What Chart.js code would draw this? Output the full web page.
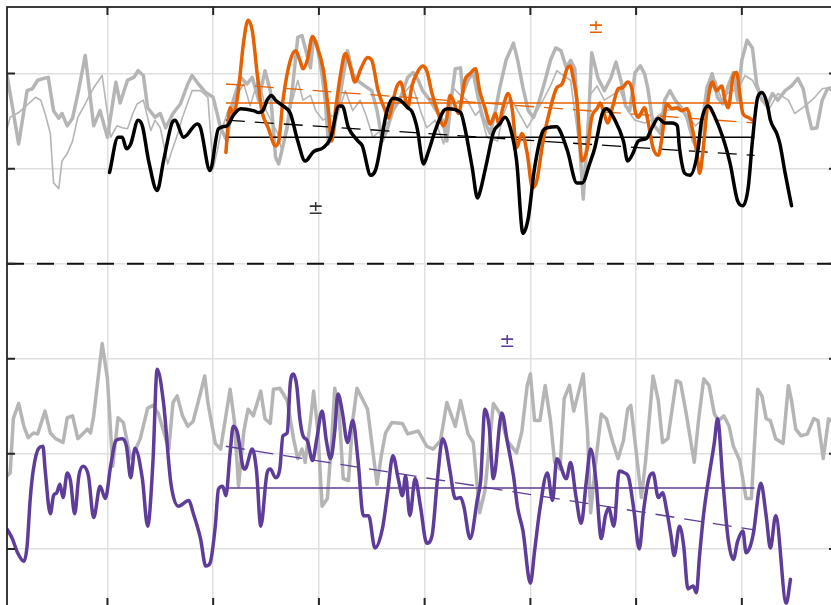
<!DOCTYPE html>
<html>
<head>
<meta charset="utf-8">
<script src="https://cdn.jsdelivr.net/npm/chart.js@4"></script>
<style>
  html, body { margin: 0; padding: 0; background: #fff; overflow: hidden; }
  #wrap { width: 831px; height: 605px; overflow: hidden; }
</style>
</head>
<body>
<div id="wrap"><canvas id="chart" width="840" height="610"></canvas></div>
<script>
// axis ticks (no labels shown in the figure)
const xTicks = [1960, 1970, 1980, 1990, 2000, 2010, 2020];
const yTicks = [-3, -2, -1, 0, 1, 2];

// ---- top panel ----
const grayThickYears = [
  1950.5, 1951.0, 1951.6, 1952.1, 1952.4, 1952.9, 1953.4, 1954.0, 1954.4, 1954.9,
  1955.4, 1955.7, 1956.2, 1956.7, 1957.3, 1957.9, 1958.7, 1959.3, 1960.0, 1960.8,
  1961.2, 1961.9, 1962.5, 1962.9, 1963.4, 1963.8, 1964.5, 1965.0, 1965.5, 1966.2,
  1966.9, 1967.6, 1968.0, 1968.6, 1969.3, 1970.0, 1970.7, 1971.3, 1971.9, 1972.6,
  1973.2, 1973.7, 1974.3, 1974.9, 1975.4, 1975.9, 1976.2, 1977.0, 1977.5, 1978.0,
  1978.4, 1978.7, 1979.2, 1979.5, 1979.8, 1980.3, 1980.6, 1980.9, 1981.4, 1982.0,
  1982.7, 1983.2, 1983.6, 1984.1, 1984.6, 1985.0, 1985.5, 1986.0, 1986.5, 1987.0,
  1987.7, 1988.4, 1988.9, 1989.4, 1989.8, 1990.5, 1991.1, 1991.7, 1992.1, 1992.5,
  1992.9, 1993.4, 1993.6, 1994.1, 1994.6, 1995.1, 1995.5, 1996.2, 1996.7, 1997.1,
  1997.7, 1998.4, 1998.8, 1999.3, 1999.8, 2000.3, 2000.7, 2001.4, 2001.9, 2002.4,
  2002.9, 2003.4, 2003.8, 2004.2, 2004.7, 2005.0, 2005.5, 2005.8, 2006.4, 2007.0,
  2007.6, 2008.1, 2008.6, 2009.0, 2009.4, 2009.9, 2010.4, 2010.8, 2011.1, 2011.6,
  2012.3, 2012.7, 2013.2, 2013.7, 2014.3, 2014.8, 2015.4, 2015.8, 2016.2, 2016.7,
  2017.2, 2017.7, 2018.2, 2018.7, 2019.2, 2019.6, 2020.0, 2020.5, 2021.0, 2021.4,
  2021.9, 2022.4, 2022.9, 2023.4, 2024.1, 2024.7, 2025.3, 2025.8, 2026.2, 2026.6,
  2027.1, 2027.6, 2028.1, 2028.4
];
const grayThickVals = [
  1.98, 1.66, 1.26, 1.61, 1.82, 1.84, 1.93, 1.95, 1.96, 1.61,
  1.53, 1.58, 1.45, 1.53, 1.84, 2.19, 1.45, 1.61, 1.33, 1.91,
  1.69, 1.93, 1.96, 2.03, 1.98, 1.64, 1.54, 1.58, 1.43, 1.58,
  1.68, 1.89, 1.98, 1.89, 1.80, 1.75, 1.43, 1.29, 1.72, 1.96,
  1.89, 1.96, 1.72, 2.03, 1.82, 1.12, 1.05, 1.43, 1.85, 2.38,
  2.40, 2.27, 2.06, 2.38, 2.32, 1.98, 1.72, 1.26, 1.40, 1.77,
  2.24, 2.00, 1.93, 1.89, 1.85, 1.82, 1.61, 1.29, 1.43, 1.61,
  1.74, 1.96, 2.01, 1.93, 1.82, 1.72, 1.61, 1.51, 1.29, 1.72,
  2.05, 2.06, 1.79, 1.93, 2.01, 1.72, 1.54, 1.37, 1.61, 1.85,
  2.14, 2.32, 2.14, 1.85, 1.61, 1.54, 1.66, 1.93, 2.14, 2.27,
  2.24, 2.06, 2.14, 2.05, 1.19, 0.68, 1.51, 2.22, 1.95, 1.82,
  1.95, 2.12, 1.91, 1.66, 1.61, 2.01, 2.08, 2.00, 1.85, 1.47,
  1.37, 1.72, 1.82, 1.72, 1.64, 1.54, 1.29, 1.21, 1.43, 1.85,
  2.00, 1.75, 1.68, 1.87, 2.01, 1.72, 2.14, 2.35, 2.27, 1.89,
  1.72, 1.66, 1.79, 1.72, 1.82, 1.87, 1.95, 1.84, 1.61, 1.42,
  1.43, 1.72, 1.84, 1.85
];

const grayThinYears = [
  1950.5, 1950.8, 1951.6, 1952.5, 1953.2, 1953.7, 1954.1, 1954.6, 1954.9, 1955.4,
  1955.7, 1956.2, 1956.7, 1957.2, 1957.9, 1958.2, 1958.7, 1959.5, 1959.9, 1960.3,
  1960.9, 1961.4, 1961.9, 1962.4, 1962.8, 1963.4, 1964.1, 1964.5, 1965.0, 1965.7,
  1966.1, 1966.6, 1967.1, 1968.0, 1968.8, 1969.5, 1970.0, 1970.4, 1970.7, 1971.4,
  1972.2, 1972.9, 1973.5, 1974.3, 1975.0, 1976.1, 1976.5, 1977.0, 1978.0, 1978.5,
  1979.2, 1979.7, 1980.4, 1981.1, 1981.7, 1982.5, 1983.2, 1983.9, 1984.4, 1985.1,
  1985.8, 1986.7, 1987.3, 1988.0, 1988.8, 1989.3, 1989.6, 1990.2, 1991.0, 1991.8,
  1992.2, 1992.7, 1993.4, 1994.0, 1994.8, 1995.2, 1995.9, 1996.9, 1997.4, 1998.1,
  1998.8, 1999.7, 2000.4, 2001.2, 2001.9, 2002.5, 2003.1, 2003.8, 2004.3, 2005.0,
  2005.6, 2006.3, 2007.0, 2007.7, 2008.5, 2009.2, 2009.9, 2010.8, 2011.8, 2012.7,
  2013.7, 2014.6, 2015.6, 2016.2, 2016.8, 2017.5, 2018.1, 2018.9, 2019.6, 2020.3,
  2021.0, 2021.7, 2022.5, 2023.4, 2024.4, 2025.0, 2026.0, 2026.9, 2027.6, 2028.1,
  2028.4
];
const grayThinVals = [
  1.42, 1.54, 1.59, 1.68, 1.75, 1.72, 1.58, 1.37, 0.85, 0.79,
  1.08, 1.16, 1.29, 1.54, 1.68, 1.75, 1.85, 1.98, 1.66, 1.33,
  1.45, 1.43, 1.42, 1.58, 1.68, 1.72, 1.40, 1.51, 1.43, 1.05,
  1.19, 1.35, 1.54, 1.82, 1.82, 1.75, 1.00, 1.19, 1.37, 1.61,
  1.77, 1.89, 1.66, 1.96, 1.61, 1.37, 1.19, 1.51, 1.93, 1.72,
  1.77, 1.61, 1.51, 1.56, 1.54, 1.82, 1.61, 1.72, 1.58, 1.33,
  1.40, 1.51, 1.72, 1.79, 1.89, 1.72, 1.61, 1.43, 1.51, 1.26,
  1.56, 1.85, 1.77, 1.72, 1.56, 1.61, 1.33, 1.29, 1.56, 1.75,
  1.61, 1.43, 1.56, 1.72, 1.87, 2.03, 1.98, 1.93, 1.51, 0.87,
  1.77, 1.87, 1.72, 1.77, 1.82, 1.61, 1.51, 1.48, 1.53, 1.61,
  1.63, 1.59, 1.45, 1.51, 1.77, 1.93, 1.72, 1.82, 1.82, 1.98,
  1.93, 1.77, 1.61, 1.79, 1.72, 1.58, 1.66, 1.75, 1.84, 1.85,
  1.82
];

const blackYears = [
  1960.2, 1961.0, 1961.4, 1961.8, 1962.2, 1962.9, 1963.3, 1963.9, 1964.7, 1965.3,
  1966.1, 1966.4, 1967.2, 1968.5, 1968.8, 1969.7, 1970.5, 1971.3, 1971.9, 1972.6,
  1973.8, 1974.3, 1974.7, 1975.1, 1975.5, 1975.9, 1976.6, 1977.3, 1978.0, 1978.7,
  1979.5, 1980.4, 1981.1, 1981.9, 1982.2, 1982.8, 1983.7, 1984.1, 1984.9, 1985.4,
  1986.4, 1987.0, 1987.7, 1988.4, 1988.8, 1989.3, 1989.9, 1990.3, 1991.0, 1991.8,
  1992.2, 1993.4, 1993.8, 1994.5, 1995.0, 1995.2, 1995.9, 1996.5, 1997.1, 1997.6,
  1998.1, 1998.7, 1999.3, 1999.8, 2000.4, 2001.2, 2001.6, 2002.5, 2002.8, 2003.5,
  2004.4, 2004.9, 2005.6, 2006.1, 2006.8, 2007.2, 2008.0, 2008.8, 2009.2, 2009.7,
  2010.2, 2011.0, 2011.5, 2012.1, 2012.7, 2013.4, 2013.9, 2014.1, 2014.6, 2015.1,
  2015.8, 2016.2, 2016.8, 2017.5, 2018.4, 2018.9, 2019.6, 2020.1, 2020.6, 2021.0,
  2021.5, 2021.9, 2022.4, 2022.7, 2023.3, 2023.6, 2024.1, 2024.7
];
const blackVals = [
  0.96, 1.33, 1.33, 1.21, 1.26, 1.51, 1.45, 1.08, 0.77, 1.08,
  1.48, 1.51, 1.33, 1.47, 1.43, 0.98, 1.42, 1.45, 1.56, 1.63,
  1.61, 1.59, 1.61, 1.72, 1.77, 1.72, 1.66, 1.58, 1.29, 1.08,
  1.18, 1.22, 1.32, 1.66, 1.66, 1.43, 1.29, 1.24, 0.93, 1.00,
  1.59, 1.74, 1.72, 1.64, 1.60, 1.42, 1.05, 1.16, 1.40, 1.61,
  1.63, 1.59, 1.43, 1.01, 0.69, 0.74, 1.08, 1.38, 1.47, 1.54,
  1.43, 1.08, 0.32, 0.48, 1.01, 1.40, 1.43, 1.44, 1.40, 1.19,
  0.85, 0.85, 1.05, 1.22, 1.58, 1.63, 1.51, 1.29, 1.08, 1.16,
  1.29, 1.32, 1.43, 1.53, 1.48, 1.48, 1.45, 1.22, 0.95, 0.93,
  1.16, 1.51, 1.66, 1.53, 1.26, 1.05, 0.66, 0.61, 0.80, 1.29,
  1.75, 1.80, 1.68, 1.51, 1.37, 1.26, 0.95, 0.61
];

const orangeYears = [
  1971.2, 1971.6, 1971.9, 1972.3, 1972.9, 1973.3, 1973.7, 1974.2, 1974.6, 1975.2,
  1975.9, 1976.2, 1976.6, 1977.3, 1977.8, 1978.2, 1978.5, 1978.9, 1979.4, 1979.8,
  1980.4, 1980.9, 1981.2, 1981.6, 1982.0, 1982.5, 1983.0, 1983.4, 1984.0, 1984.6,
  1985.0, 1985.6, 1986.2, 1986.6, 1986.9, 1987.3, 1987.7, 1988.1, 1988.4, 1988.8,
  1989.3, 1989.8, 1990.2, 1990.7, 1991.2, 1991.8, 1992.1, 1992.4, 1992.7, 1993.2,
  1993.8, 1994.3, 1994.8, 1995.2, 1995.7, 1996.2, 1996.7, 1997.0, 1997.4, 1997.9,
  1998.3, 1998.7, 1999.2, 1999.7, 2000.2, 2000.6, 2001.2, 2001.9, 2002.5, 2003.0,
  2003.5, 2003.8, 2004.0, 2004.4, 2004.9, 2005.4, 2005.8, 2006.3, 2006.6, 2006.9,
  2007.3, 2007.8, 2008.3, 2008.7, 2009.2, 2009.6, 2009.9, 2010.2, 2010.8, 2011.1,
  2011.6, 2012.1, 2012.4, 2012.9, 2013.4, 2013.9, 2014.3, 2014.8, 2015.3, 2015.8,
  2016.0, 2016.3, 2016.8, 2017.2, 2017.6, 2018.1, 2018.4, 2018.7, 2019.2, 2019.5,
  2019.8, 2020.1, 2020.6, 2021.0
];
const orangeVals = [
  1.17, 1.64, 1.58, 1.75, 2.35, 2.56, 2.45, 1.96, 1.61, 1.43,
  1.24, 1.29, 1.72, 2.14, 2.24, 2.14, 2.05, 2.14, 2.39, 2.29,
  2.05, 1.61, 1.29, 1.64, 1.96, 2.21, 2.06, 1.91, 2.06, 2.17,
  2.14, 1.82, 1.63, 1.53, 1.66, 1.84, 1.91, 1.77, 1.64, 1.87,
  2.01, 2.08, 2.03, 1.79, 1.61, 1.45, 1.54, 1.77, 1.72, 1.58,
  1.93, 2.00, 2.05, 1.82, 1.64, 1.47, 1.58, 1.47, 1.64, 1.79,
  1.61, 1.22, 1.37, 1.16, 0.80, 0.87, 1.29, 1.64, 1.85, 1.89,
  2.06, 2.08, 1.98, 1.72, 1.08, 1.22, 1.54, 1.63, 1.69, 1.61,
  1.48, 1.66, 1.84, 1.85, 1.91, 1.84, 1.61, 1.54, 1.64, 1.51,
  1.22, 1.14, 1.29, 1.68, 1.63, 1.64, 1.61, 1.63, 1.43, 1.12,
  0.95, 1.16, 1.72, 1.91, 1.82, 1.87, 1.72, 1.64, 1.98, 2.01,
  1.79, 1.58, 1.54, 1.51
];

// ---- bottom panel ----
const grayLowYears = [
  1950.5, 1950.8, 1951.1, 1951.6, 1952.1, 1952.5, 1953.0, 1953.4, 1954.1, 1954.6,
  1955.1, 1955.8, 1956.2, 1956.7, 1957.2, 1958.1, 1958.4, 1958.7, 1959.5, 1960.0,
  1960.5, 1961.0, 1961.5, 1962.2, 1962.6, 1963.1, 1963.8, 1964.3, 1964.8, 1965.3,
  1965.8, 1966.2, 1966.6, 1967.1, 1967.6, 1968.1, 1968.8, 1969.2, 1969.5, 1970.2,
  1970.7, 1971.6, 1972.0, 1972.4, 1972.9, 1973.3, 1973.8, 1974.5, 1974.9, 1975.4,
  1975.7, 1976.3, 1977.0, 1977.6, 1978.0, 1978.4, 1978.7, 1979.2, 1979.5, 1979.9,
  1980.3, 1980.8, 1981.2, 1981.5, 1981.9, 1982.3, 1982.8, 1983.2, 1983.6, 1984.6,
  1985.1, 1985.5, 1985.9, 1986.3, 1986.9, 1987.9, 1988.4, 1989.4, 1990.2, 1990.8,
  1991.5, 1992.1, 1992.9, 1993.4, 1994.1, 1994.6, 1995.2, 1995.7, 1996.5, 1997.1,
  1997.8, 1998.7, 1999.2, 1999.7, 2000.0, 2000.4, 2000.9, 2001.4, 2001.9, 2002.3,
  2002.8, 2003.2, 2003.7, 2004.1, 2005.0, 2005.4, 2005.7, 2006.2, 2006.7, 2007.2,
  2007.8, 2008.3, 2008.8, 2009.2, 2009.5, 2010.0, 2010.5, 2010.9, 2011.6, 2012.1,
  2012.5, 2013.0, 2013.8, 2014.2, 2014.7, 2015.5, 2015.9, 2016.4, 2016.9, 2017.4,
  2017.8, 2018.3, 2018.8, 2019.2, 2019.8, 2020.4, 2020.9, 2021.5, 2021.9, 2022.3,
  2022.7, 2023.2, 2023.9, 2024.4, 2024.7, 2025.1, 2025.6, 2026.2, 2026.8, 2027.2,
  2027.7, 2028.2, 2028.4
];
const grayLowVals = [
  -2.23, -2.20, -1.63, -1.47, -1.71, -1.83, -1.78, -1.79, -1.55, -1.78,
  -1.84, -1.88, -1.62, -1.60, -1.84, -1.74, -1.78, -1.60, -0.84, -1.21,
  -2.13, -1.62, -1.67, -2.05, -1.97, -1.84, -1.52, -1.49, -1.57, -1.76,
  -1.95, -1.46, -1.39, -1.60, -1.71, -1.66, -1.36, -1.18, -1.46, -1.89,
  -1.95, -1.32, -1.65, -2.34, -1.76, -1.53, -1.60, -1.34, -1.63, -1.68,
  -1.32, -1.31, -1.44, -1.84, -2.05, -1.95, -2.09, -1.65, -1.34, -1.76,
  -2.55, -2.47, -1.86, -1.31, -1.55, -2.26, -2.28, -1.65, -1.31, -1.53,
  -1.97, -2.32, -2.02, -1.78, -1.67, -1.68, -1.79, -1.76, -1.92, -1.95,
  -1.86, -1.46, -1.71, -1.44, -1.79, -1.88, -2.62, -2.39, -1.47, -1.57,
  -1.86, -1.99, -1.76, -1.28, -1.16, -1.65, -1.65, -1.28, -1.65, -2.09,
  -2.16, -1.42, -1.28, -1.55, -1.16, -1.76, -2.62, -2.07, -1.58, -1.63,
  -1.88, -2.05, -1.86, -1.53, -1.49, -1.97, -2.46, -2.07, -1.18, -1.44,
  -1.88, -1.84, -1.23, -1.25, -1.55, -2.09, -1.65, -1.21, -1.28, -1.58,
  -1.65, -1.60, -1.71, -1.92, -2.07, -2.47, -2.47, -1.32, -1.39, -1.63,
  -1.65, -1.84, -1.89, -1.28, -1.44, -1.74, -1.81, -1.79, -1.63, -1.65,
  -2.05, -1.63, -1.65
];

const purpleYears = [
  1950.5, 1951.0, 1951.5, 1952.1, 1952.4, 1952.7, 1953.0, 1953.5, 1953.9, 1954.1,
  1954.6, 1954.9, 1955.2, 1955.5, 1955.8, 1956.2, 1956.5, 1956.9, 1957.3, 1957.7,
  1958.2, 1958.7, 1959.3, 1959.8, 1960.3, 1960.8, 1961.4, 1961.8, 1962.2, 1962.6,
  1963.3, 1963.8, 1964.3, 1964.7, 1965.3, 1966.0, 1966.7, 1967.7, 1968.1, 1968.8,
  1969.3, 1969.7, 1970.2, 1970.5, 1970.9, 1971.2, 1971.6, 1971.9, 1972.3, 1972.8,
  1973.0, 1973.7, 1974.1, 1974.5, 1975.1, 1975.4, 1975.9, 1976.3, 1976.6, 1977.0,
  1977.3, 1977.6, 1977.9, 1978.2, 1978.5, 1978.9, 1979.4, 1979.8, 1980.3, 1980.7,
  1981.1, 1981.5, 1981.8, 1982.2, 1982.7, 1983.2, 1983.7, 1984.2, 1984.7, 1985.3,
  1986.0, 1986.5, 1987.0, 1987.5, 1987.9, 1988.2, 1988.6, 1989.1, 1989.6, 1990.2,
  1990.7, 1991.2, 1991.7, 1992.0, 1992.4, 1992.9, 1993.4, 1993.7, 1994.3, 1995.0,
  1995.3, 1995.7, 1996.1, 1996.5, 1997.3, 1997.8, 1998.4, 1998.8, 1999.3, 2000.0,
  2000.4, 2000.9, 2001.6, 2002.1, 2002.5, 2003.4, 2003.8, 2004.3, 2004.8, 2005.3,
  2005.7, 2006.2, 2006.7, 2007.1, 2007.4, 2007.9, 2008.4, 2008.9, 2009.3, 2009.8,
  2010.3, 2010.7, 2011.2, 2011.6, 2012.1, 2012.5, 2012.9, 2013.3, 2013.6, 2014.1,
  2014.5, 2014.9, 2015.4, 2015.7, 2016.0, 2016.4, 2016.9, 2017.4, 2017.7, 2018.2,
  2018.7, 2019.2, 2019.6, 2020.1, 2020.4, 2020.8, 2021.1, 2021.8, 2022.3, 2022.7,
  2023.2, 2024.2, 2024.6
];
const purpleVals = [
  -2.79, -2.89, -3.04, -3.13, -2.97, -2.47, -2.16, -1.94, -1.92, -2.16,
  -2.63, -2.44, -2.41, -2.32, -2.46, -2.20, -2.28, -2.63, -2.23, -2.13,
  -2.23, -2.67, -2.34, -2.47, -2.13, -1.86, -1.84, -1.92, -2.25, -1.94,
  -2.26, -2.76, -2.09, -1.11, -1.46, -2.31, -2.55, -2.49, -2.62, -2.89,
  -3.18, -3.15, -2.76, -2.37, -2.34, -2.44, -1.99, -1.71, -1.78, -2.13,
  -2.16, -1.95, -2.18, -2.76, -2.20, -2.16, -2.25, -2.16, -1.81, -1.78,
  -1.25, -1.16, -1.28, -1.63, -1.81, -1.86, -2.07, -1.84, -1.55, -1.86,
  -2.05, -1.76, -1.37, -1.55, -1.88, -1.65, -2.07, -2.65, -2.65, -2.99,
  -2.79, -2.41, -2.02, -2.26, -2.44, -2.23, -2.65, -2.26, -2.55, -2.94,
  -2.86, -2.28, -1.84, -1.92, -2.18, -2.47, -2.46, -2.55, -2.89, -2.47,
  -2.28, -1.53, -1.71, -2.26, -1.57, -1.86, -2.23, -2.57, -2.81, -3.36,
  -3.02, -2.58, -2.20, -2.49, -2.05, -2.26, -2.09, -2.44, -2.73, -2.28,
  -1.95, -2.28, -2.89, -2.65, -2.57, -2.76, -2.18, -2.20, -2.25, -2.60,
  -3.00, -2.60, -2.26, -2.20, -2.46, -2.41, -2.60, -2.86, -3.07, -2.76,
  -2.97, -3.42, -3.39, -3.46, -3.07, -2.62, -2.23, -1.88, -1.63, -2.28,
  -2.89, -3.11, -2.92, -2.81, -3.04, -2.97, -2.83, -2.31, -2.65, -2.99,
  -2.65, -3.57, -3.32
];

// period means and linear trends (start, end)
const fitYears = [1971.2, 2021.2];
const blackMean = 1.33, orangeMean = 1.69, purpleMean = -2.36;
const blackTrend = [1.51, 1.14];
const orangeTrend = [1.89, 1.48];
const purpleTrend = [-1.92, -2.80];

// "±" annotations: [year, value, colour]
const pmMarks = [
  [1979.7, 0.57, '#333333'],
  [2006.2, 2.48, '#e66101'],
  [1997.8, -0.82, '#5e3c99']
];

const ORANGE = '#e66101', PURPLE = '#5e3c99', GRAY = '#b5b5b5';

function pts(xs, ys) {
  return xs.map((x, i) => ({ x: x, y: ys[i] }));
}

function flat(v) {
  return fitYears.map(x => ({ x: x, y: v }));
}

function series(data, color, width, order, smooth) {
  return {
    data: data,
    borderColor: color,
    borderWidth: width,
    pointRadius: 0,
    fill: false,
    order: order,
    borderJoinStyle: 'round',
    borderCapStyle: 'round',
    cubicInterpolationMode: smooth ? 'monotone' : 'default',
    tension: smooth ? 0.4 : 0
  };
}

const datasets = [
  series(pts(grayThinYears, grayThinVals), GRAY, 1.6, 20, false),
  series(pts(grayThickYears, grayThickVals), GRAY, 3.5, 19, false),
  series(pts(grayLowYears, grayLowVals), GRAY, 3.5, 19, false),
  Object.assign(series([{ x: 1950.5, y: 0 }, { x: 2029, y: 0 }], '#111111', 2, 18, false),
    { borderDash: [17, 13], borderCapStyle: 'butt' }),
  Object.assign(series(flat(orangeMean), ORANGE, 1.5, 12, false), { borderCapStyle: 'butt' }),
  Object.assign(series(pts(fitYears, orangeTrend), ORANGE, 1.3, 12, false),
    { borderDash: [19, 10], borderCapStyle: 'butt' }),
  Object.assign(series(flat(blackMean), '#000000', 1.3, 11, false), { borderCapStyle: 'butt' }),
  Object.assign(series(pts(fitYears, blackTrend), '#000000', 1.3, 11, false),
    { borderDash: [19, 10], borderCapStyle: 'butt' }),
  Object.assign(series(flat(purpleMean), PURPLE, 1.5, 11, false), { borderCapStyle: 'butt' }),
  Object.assign(series(pts(fitYears, purpleTrend), PURPLE, 1.3, 11, false),
    { borderDash: [19, 10], borderCapStyle: 'butt' }),
  series(pts(orangeYears, orangeVals), ORANGE, 3.5, 3, true),
  series(pts(blackYears, blackVals), '#000000', 3.5, 2, true),
  series(pts(purpleYears, purpleVals), PURPLE, 3.5, 2, true)
];

// frame, inward tick marks and the ± labels
const framePlugin = {
  id: 'frame',
  afterDraw(chart) {
    const { ctx, chartArea: a, scales: { x, y } } = chart;
    ctx.save();
    ctx.strokeStyle = '#262626';
    ctx.lineWidth = 2;
    ctx.beginPath();
    xTicks.forEach(v => {
      const px = x.getPixelForValue(v);
      ctx.moveTo(px, a.top); ctx.lineTo(px, a.top + 8);
      ctx.moveTo(px, a.bottom); ctx.lineTo(px, a.bottom - 8);
    });
    yTicks.forEach(v => {
      const py = y.getPixelForValue(v);
      ctx.moveTo(a.left, py); ctx.lineTo(a.left + 8, py);
      ctx.moveTo(a.right, py); ctx.lineTo(a.right - 8, py);
    });
    ctx.stroke();
    ctx.lineWidth = 1.8;
    ctx.strokeRect(a.left, a.top, a.right - a.left, a.bottom - a.top);

    ctx.font = '19px "DejaVu Sans"';
    ctx.textAlign = 'center';
    ctx.textBaseline = 'middle';
    pmMarks.forEach(m => {
      ctx.fillStyle = m[2];
      ctx.fillText('\u00b1', x.getPixelForValue(m[0]), y.getPixelForValue(m[1]));
    });
    ctx.restore();
  }
};

new Chart(document.getElementById('chart'), {
  type: 'line',
  data: { datasets: datasets },
  options: {
    responsive: false,
    animation: false,
    layout: { padding: { left: 7, top: 7, right: 3, bottom: 4 } },
    plugins: { legend: { display: false }, tooltip: { enabled: false } },
    scales: {
      x: {
        type: 'linear',
        min: 1950.5,
        max: 2029,
        afterBuildTicks: s => { s.ticks = xTicks.map(v => ({ value: v })); },
        ticks: { display: false },
        border: { display: false },
        grid: { color: '#e0e0e0', lineWidth: 1.5, drawTicks: false }
      },
      y: {
        type: 'linear',
        min: -3.6,
        max: 2.7,
        afterBuildTicks: s => { s.ticks = yTicks.map(v => ({ value: v })); },
        ticks: { display: false },
        border: { display: false },
        grid: { color: '#e0e0e0', lineWidth: 1.5, drawTicks: false }
      }
    }
  },
  plugins: [framePlugin]
});
</script>
</body>
</html>
